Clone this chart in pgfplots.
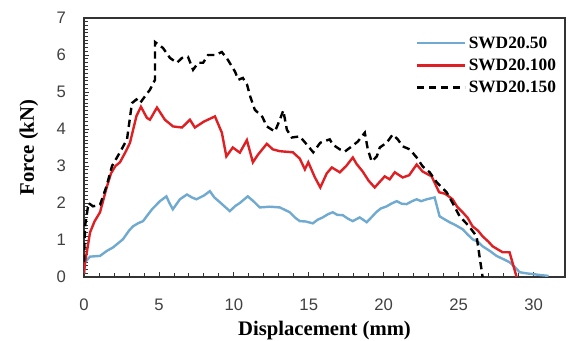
\documentclass[border=0pt]{standalone}
\usepackage{fontspec}
\setmainfont{Liberation Serif}
\newfontfamily\tickfont{Liberation Sans}
\usepackage{pgfplots}
\pgfplotsset{compat=1.18}
\usetikzlibrary{calc}
\definecolor{swblue}{RGB}{112,170,208}
\definecolor{swred}{RGB}{222,32,36}
\begin{document}
\begin{tikzpicture}
\begin{axis}[
  scale only axis,
  width=360.75pt, height=194.25pt,
  xmin=0, xmax=32.1, ymin=0, ymax=7,
  xtick={0,5,...,30}, ytick={0,1,...,7},
  minor x tick num=4, minor y tick num=9,
  tick align=inside,
  major tick length=4pt, minor tick length=3pt,
  xtick pos=bottom, ytick pos=left,
  axis line style={black!80, line width=1pt},
  every tick/.style={black!80, line width=0.6pt},
  /pgf/number format/assume math mode=true,
  tick label style={font=\tickfont\fontsize{12.5}{14}\selectfont, text=black!75},
  xticklabel style={yshift=-13pt},
  yticklabel style={xshift=-10pt},
  xlabel={\textbf{Displacement (mm)}},
  ylabel={\textbf{Force (kN)}},
  label style={font=\fontsize{15.5}{18}\selectfont},
  xlabel style={yshift=-1pt},
  ylabel style={yshift=7pt},
  legend style={draw=none, fill=none, at={(rel axis cs:0.99,0.945)}, anchor=north east,
    font=\bfseries\fontsize{13}{15}\selectfont, row sep=2.5pt, inner sep=1pt},
  legend cell align=left,
  legend image code/.code={\draw[#1] (0pt,0pt) -- (36pt,0pt);},
]
\addplot[swblue, line width=1.8pt] coordinates {
(0,0.1)(0.07,0.4)(0.4,0.55)(1.07,0.57)(1.5,0.7)(1.94,0.8)(2.6,1.02)(3.0,1.25)(3.27,1.37)(3.6,1.45)(3.94,1.51)(4.2,1.65)(4.54,1.83)(5.07,2.05)(5.5,2.18)(5.7,2.0)(5.93,1.83)(6.4,2.1)(6.87,2.23)(7.2,2.15)(7.5,2.1)(8.0,2.2)(8.4,2.32)(8.7,2.15)(9.07,2.02)(9.4,1.9)(9.73,1.78)(10.1,1.92)(10.4,2.0)(10.93,2.18)(11.3,2.05)(11.73,1.88)(12.4,1.9)(13.07,1.88)(13.73,1.75)(14.1,1.6)(14.4,1.51)(14.8,1.5)(15.27,1.45)(15.6,1.55)(15.93,1.61)(16.3,1.7)(16.6,1.75)(16.9,1.68)(17.27,1.67)(17.6,1.58)(17.93,1.51)(18.4,1.61)(18.87,1.48)(19.2,1.62)(19.5,1.75)(19.8,1.85)(20.2,1.91)(20.5,1.98)(20.87,2.05)(21.2,1.98)(21.53,1.97)(21.9,2.05)(22.2,2.1)(22.5,2.05)(22.87,2.1)(23.4,2.15)(23.73,1.64)(24.1,1.55)(24.4,1.48)(24.8,1.4)(25.27,1.29)(25.6,1.15)(25.93,1.02)(26.3,0.95)(26.6,0.83)(27.1,0.7)(27.53,0.57)(28.0,0.48)(28.4,0.4)(28.8,0.25)(29.07,0.13)(29.5,0.1)(29.93,0.08)(30.5,0.05)(31,0.03)
};
\addlegendentry{SWD20.50}
\addplot[swred, line width=1.8pt] coordinates {
(0,0.1)(0.07,0.4)(0.2,0.7)(0.4,1.2)(0.7,1.5)(1.07,1.75)(1.5,2.4)(1.8,2.8)(2.1,3.0)(2.4,3.1)(2.8,3.4)(3.07,3.63)(3.5,4.35)(3.8,4.6)(4.2,4.3)(4.4,4.25)(4.87,4.58)(5.4,4.25)(5.94,4.07)(6.54,4.04)(7.07,4.25)(7.4,4.04)(8.0,4.2)(8.74,4.34)(9.2,3.9)(9.5,3.26)(9.93,3.5)(10.4,3.36)(10.87,3.7)(11.27,3.1)(11.6,3.3)(12.2,3.6)(12.6,3.45)(13.07,3.4)(13.94,3.37)(14.4,3.2)(14.74,2.91)(14.97,3.1)(15.4,2.7)(15.77,2.42)(16.2,2.8)(16.54,2.96)(17.07,2.83)(17.5,3.0)(17.94,3.23)(18.2,3.05)(18.6,2.85)(19.0,2.6)(19.4,2.42)(20.07,2.72)(20.4,2.64)(20.74,2.83)(21.27,2.69)(21.7,2.75)(22.2,3.04)(22.6,2.85)(23.2,2.72)(23.7,2.29)(24.1,2.25)(24.6,2.1)(24.9,1.9)(25.27,1.75)(25.6,1.6)(25.93,1.37)(26.3,1.25)(26.6,1.1)(27.0,0.95)(27.27,0.83)(27.6,0.75)(27.93,0.67)(28.4,0.67)(28.87,0.0)
};
\addlegendentry{SWD20.100}
\addplot[black, line width=1.8pt, dash pattern=on 5.5pt off 3.5pt] coordinates {
(0,0.4)(0.07,1.37)(0.3,2.0)(0.6,1.91)(1.07,1.95)(1.5,2.45)(1.87,3.0)(2.4,3.37)(2.87,3.72)(3.2,4.7)(3.5,4.8)(3.74,4.7)(4.1,4.9)(4.4,5.06)(4.74,5.33)(4.74,6.35)(5.27,6.19)(5.74,5.92)(6.2,5.79)(6.54,5.92)(6.94,5.95)(7.28,5.6)(7.62,5.79)(7.95,5.79)(8.28,6.0)(8.75,6.0)(9.2,6.08)(9.6,5.87)(10.08,5.55)(10.3,5.33)(10.6,5.38)(10.88,5.2)(11.1,4.87)(11.4,4.52)(11.9,4.33)(12.2,4.07)(12.74,3.93)(13.07,4.25)(13.3,4.5)(13.54,3.98)(13.87,3.77)(14.4,3.8)(14.87,3.58)(15.3,3.37)(15.77,3.63)(16.4,3.72)(16.6,3.58)(17.07,3.45)(17.4,3.39)(17.87,3.53)(18.27,3.66)(18.74,3.9)(18.94,3.45)(19.2,3.12)(19.54,3.26)(19.74,3.5)(20.2,3.63)(20.6,3.85)(20.94,3.72)(21.27,3.53)(21.74,3.45)(22.2,3.23)(22.6,2.99)(23.07,2.83)(23.54,2.56)(24.2,2.29)(24.6,2.0)(25.07,1.64)(25.7,1.37)(26.2,1.1)(26.6,0.0)
};
\addlegendentry{SWD20.150}
\end{axis}
\pgfresetboundingbox
\path ($(current axis.south west)+(-63pt,-48pt)$) rectangle ($(current axis.north east)+(2.25pt,13.5pt)$);
\end{tikzpicture}
\end{document}
